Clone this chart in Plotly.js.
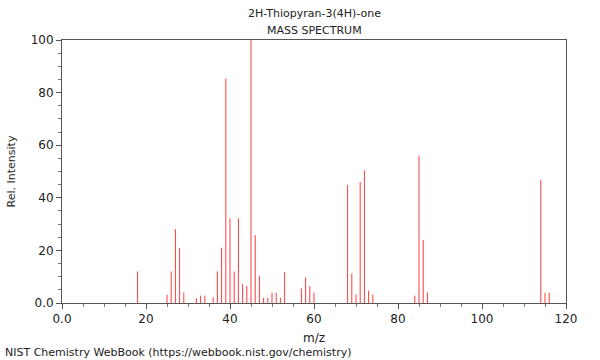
<!DOCTYPE html>
<html>
<head>
<meta charset="utf-8">
<script src="https://cdn.plot.ly/plotly-3.0.1.min.js"></script>
<style>html,body{margin:0;padding:0;background:#fff}#chart{width:600px;height:360px}</style>
</head>
<body>
<div id="chart"></div>
<script>
// m/z values and relative intensities
const mz = [18, 25, 26, 27, 28, 29, 32, 33, 34, 36, 37, 38, 39, 40, 41, 42, 43, 44, 45, 46, 47, 48, 49, 50, 51, 52, 53, 57, 58, 59, 60, 68, 69, 70, 71, 72, 73, 74, 84, 85, 86, 87, 114, 115, 116];
const intensity = [12.0, 3.2, 12.0, 28.1, 20.9, 4.0, 1.8, 2.8, 2.8, 2.1, 12.0, 21.0, 85.4, 32.2, 12.0, 32.2, 7.2, 6.4, 100, 25.8, 10.4, 2.0, 2.0, 3.9, 3.9, 2.0, 11.8, 5.5, 9.7, 6.4, 3.9, 44.9, 11.2, 3.2, 46.0, 50.4, 4.7, 3.2, 2.8, 56.1, 24.0, 4.0, 46.8, 3.9, 3.9];
const xTickVals = [0, 20, 40, 60, 80, 100, 120];
const xTickText = ["0.0", "20", "40", "60", "80", "100", "120"];
const yTickVals = [0, 20, 40, 60, 80, 100];
const yTickText = ["0.0", "20", "40", "60", "80", "100"];
const titleLines = ["2H-Thiopyran-3(4H)-one", "MASS SPECTRUM"];
const footer = "NIST Chemistry WebBook (https://webbook.nist.gov/chemistry)";

const font = "DejaVu Sans, sans-serif";
const axisCommon = {
  showgrid: false, zeroline: false, showline: true, mirror: true,
  linecolor: "#555", linewidth: 1,
  ticks: "outside", ticklen: 5, tickcolor: "#555", tickwidth: 1,
  tickmode: "array", tickfont: {family: font, size: 12, color: "#222"},
  minor: {dtick: 5, ticks: "outside", ticklen: 3, tickcolor: "#777", showgrid: false}
};

// stick spectrum: each peak drawn as a vertical line from 0 to its intensity
const stickX = [], stickY = [];
mz.forEach((m, i) => { stickX.push(m, m, null); stickY.push(0, intensity[i], null); });

const trace = {
  type: "scatter", mode: "lines", x: stickX, y: stickY,
  line: {color: "#ff3c3c", width: 1}, connectgaps: false,
  hoverinfo: "skip"
};

const plotH = 263.5, plotW = 504.5;
const layout = {
  width: 600, height: 360,
  margin: {l: 62, r: 33.5, t: 40, b: 56.5},
  paper_bgcolor: "#fff", plot_bgcolor: "#fff",
  showlegend: false,
  font: {family: font, size: 11, color: "#222"},
  xaxis: Object.assign({}, axisCommon, {range: [0, 120], tickvals: xTickVals, ticktext: xTickText,
          title: {text: "m/z", font: {family: font, size: 12, color: "#222"}, standoff: 8}}),
  yaxis: Object.assign({}, axisCommon, {range: [0, 100], tickvals: yTickVals, ticktext: yTickText,
          title: {text: "Rel. Intensity", font: {family: font, size: 11, color: "#222"}, standoff: 12}}),
  annotations: [
    {text: titleLines[0], xref: "paper", yref: "paper", x: 0.5, y: 1 + 27/plotH,
     xanchor: "center", yanchor: "middle", showarrow: false, font: {family: font, size: 11, color: "#222"}},
    {text: titleLines[1], xref: "paper", yref: "paper", x: 0.5, y: 1 + 10/plotH,
     xanchor: "center", yanchor: "middle", showarrow: false, font: {family: font, size: 11, color: "#222"}},
    {text: footer, xref: "paper", yref: "paper", x: -59/plotW, y: -49.5/plotH,
     xanchor: "left", yanchor: "middle", showarrow: false, font: {family: font, size: 11, color: "#222"}}
  ]
};

Plotly.newPlot("chart", [trace], layout, {displayModeBar: false, staticPlot: true});
</script>
</body>
</html>
